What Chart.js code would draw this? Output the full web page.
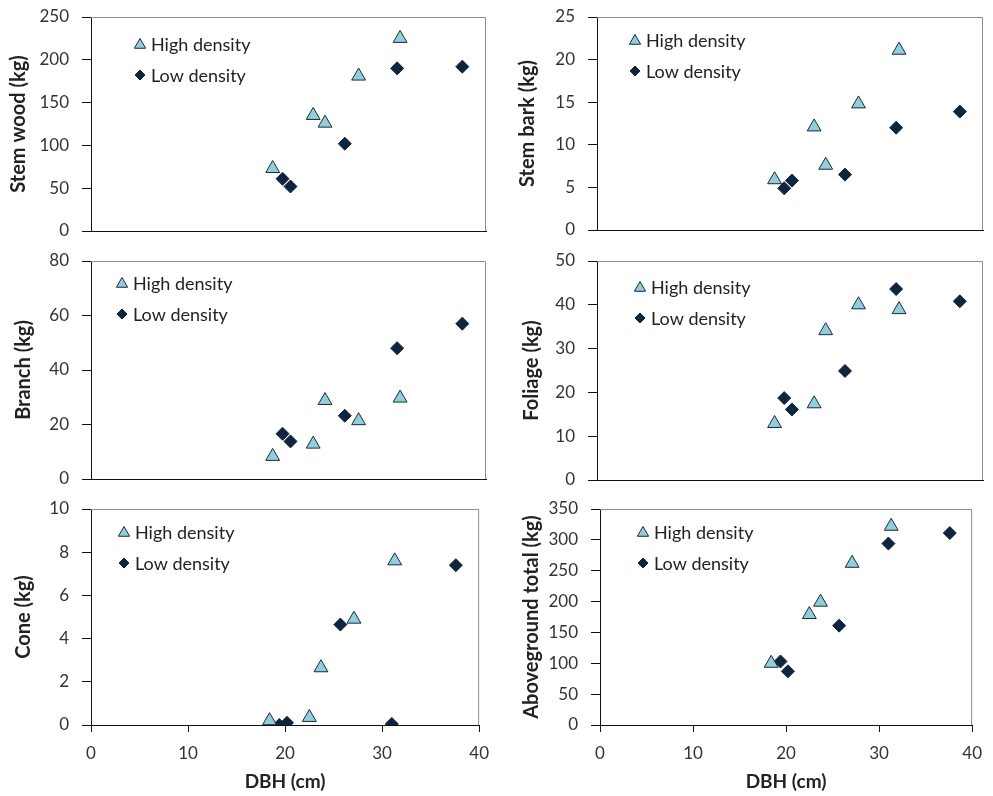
<!DOCTYPE html>
<html>
<head>
<meta charset="utf-8">
<title>Biomass vs DBH</title>
<script src="https://cdn.jsdelivr.net/npm/chart.js@4.4.0/dist/chart.umd.min.js"></script>
<style>
  body { margin: 0; background: #fff; }
  #wrap { position: relative; width: 993px; height: 796px; overflow: hidden; }
  .panel { position: absolute; }
</style>
</head>
<body>
<div id="wrap">
  <div class="panel" id="p0"><canvas></canvas></div>
  <div class="panel" id="p1"><canvas></canvas></div>
  <div class="panel" id="p2"><canvas></canvas></div>
  <div class="panel" id="p3"><canvas></canvas></div>
  <div class="panel" id="p4"><canvas></canvas></div>
  <div class="panel" id="p5"><canvas></canvas></div>
</div>
<script>
// DBH of the sampled trees (cm)
const dbhHigh = [18.4, 22.5, 23.7, 27.1, 31.3];
const dbhLow = [19.4, 20.2, 25.7, 31.0, 37.6];
const xTicks = [0, 10, 20, 30, 40];

// biomass components (kg)
const stemWoodHigh = [73, 135, 126, 181, 225];
const stemWoodLow = [61, 52, 102, 190, 192];
const stemBarkHigh = [5.9, 12.1, 7.6, 14.8, 21.1];
const stemBarkLow = [4.9, 5.8, 6.5, 12.0, 13.9];
const branchHigh = [8.3, 12.8, 28.8, 21.4, 29.7];
const branchLow = [16.6, 13.8, 23.2, 48.0, 57.0];
const foliageHigh = [12.9, 17.4, 34.1, 40.0, 38.9];
const foliageLow = [18.7, 16.1, 24.9, 43.6, 40.8];
const coneHigh = [0.2, 0.35, 2.65, 4.9, 7.6];
const coneLow = [0.0, 0.1, 4.65, 0.05, 7.4];
const totalHigh = [100, 179, 199, 262, 322];
const totalLow = [103, 87, 161, 294, 311];

// y tick labels per panel
const stemWoodTicks = [0, 50, 100, 150, 200, 250];
const stemBarkTicks = [0, 5, 10, 15, 20, 25];
const branchTicks = [0, 20, 40, 60, 80];
const foliageTicks = [0, 10, 20, 30, 40, 50];
const coneTicks = [0, 2, 4, 6, 8, 10];
const totalTicks = [0, 50, 100, 150, 200, 250, 300, 350];

const seriesLabels = ['High density', 'Low density'];

const FONT = 'Lato, "Open Sans", sans-serif';
const HIGH_FILL = '#92CDDC';
const LOW_FILL = '#0F243E';
const EDGE = '#1B2A3A';

// box = container, area = wanted plot area (page px)
const panels = [
  { id: 'p0', title: 'Stem wood (kg)', high: stemWoodHigh, low: stemWoodLow, ticks: stemWoodTicks,
    box: [0, 0, 500, 245], area: [91, 17, 486, 231], titlePad: 7, leg: [49, 27], xLabels: false },
  { id: 'p1', title: 'Stem bark (kg)', high: stemBarkHigh, low: stemBarkLow, ticks: stemBarkTicks,
    box: [500, 0, 493, 245], area: [597, 17, 983, 230], titlePad: 16, leg: [38, 23], xLabels: false },
  { id: 'p2', title: 'Branch (kg)', high: branchHigh, low: branchLow, ticks: branchTicks,
    box: [0, 245, 500, 245], area: [91, 261, 486, 479], titlePad: 12, leg: [31, 22], xLabels: false },
  { id: 'p3', title: 'Foliage (kg)', high: foliageHigh, low: foliageLow, ticks: foliageTicks,
    box: [500, 245, 493, 245], area: [597, 261, 983, 480], titlePad: 20, leg: [43, 26], xLabels: false },
  { id: 'p4', title: 'Cone (kg)', high: coneHigh, low: coneLow, ticks: coneTicks,
    box: [0, 490, 500, 306], area: [91, 509, 480, 725], titlePad: 12, leg: [33, 23], xLabels: true },
  { id: 'p5', title: 'Aboveground total (kg)', high: totalHigh, low: totalLow, ticks: totalTicks,
    box: [500, 490, 493, 306], area: [600, 509, 983, 725], titlePad: 20, leg: [43, 23], xLabels: true }
];

const toPoints = (xs, ys) => xs.map((x, i) => ({ x: x, y: ys[i] }));

// grey top/right frame of each plot
const frame = {
  id: 'frame',
  beforeDatasetsDraw(chart) {
    const { ctx, chartArea: a } = chart;
    ctx.save();
    ctx.strokeStyle = '#8c8c8c';
    ctx.lineWidth = 1;
    ctx.beginPath();
    ctx.moveTo(a.left, a.top + 0.5);
    ctx.lineTo(a.right - 0.5, a.top + 0.5);
    ctx.lineTo(a.right - 0.5, a.bottom);
    ctx.stroke();
    ctx.restore();
  }
};

// legend drawn inside the plot, like the original
const insideLegend = {
  id: 'insideLegend',
  afterDraw(chart, args, opts) {
    const { ctx, chartArea: a } = chart;
    const x0 = a.left + opts.dx;
    const y0 = a.top + opts.dy;
    ctx.save();
    ctx.font = '18px ' + FONT;
    ctx.textBaseline = 'middle';
    chart.data.datasets.forEach((ds, i) => {
      const y = y0 + i * 31;
      ctx.fillStyle = ds.backgroundColor;
      ctx.strokeStyle = ds.borderColor;
      ctx.lineWidth = 1;
      Chart.helpers.drawPoint(ctx, {
        pointStyle: ds.pointStyle,
        radius: ds.pointStyle === 'triangle' ? 6.5 : 5,
        rotation: 0,
        borderWidth: 1
      }, x0, y + (ds.pointStyle === 'triangle' ? 1 : 0));
      ctx.fillStyle = '#222';
      ctx.fillText(ds.label, x0 + 11, y + 1);
    });
    ctx.restore();
  }
};

panels.forEach(p => {
  const [bx, by, bw, bh] = p.box;
  const [al, at, ar, ab] = p.area;
  const el = document.getElementById(p.id);
  el.style.left = bx + 'px';
  el.style.top = by + 'px';
  el.style.width = bw + 'px';
  el.style.height = bh + 'px';

  new Chart(el.querySelector('canvas'), {
    type: 'scatter',
    data: {
      datasets: [
        {
          label: seriesLabels[0],
          data: toPoints(dbhHigh, p.high),
          pointStyle: 'triangle',
          pointRadius: 8,
          backgroundColor: HIGH_FILL,
          borderColor: EDGE,
          borderWidth: 1
        },
        {
          label: seriesLabels[1],
          data: toPoints(dbhLow, p.low),
          pointStyle: 'rectRot',
          pointRadius: 6.5,
          backgroundColor: LOW_FILL,
          borderColor: LOW_FILL,
          borderWidth: 1
        }
      ]
    },
    options: {
      responsive: true,
      maintainAspectRatio: false,
      animation: false,
      layout: { padding: { left: 0, top: at - by, right: bx + bw - ar, bottom: 0 } },
      plugins: {
        legend: { display: false },
        tooltip: { enabled: false },
        insideLegend: { dx: p.leg[0], dy: p.leg[1] }
      },
      scales: {
        x: {
          type: 'linear',
          min: 0,
          max: 40,
          afterBuildTicks: s => { s.ticks = xTicks.map(v => ({ value: v })); },
          afterFit: s => { s.height = by + bh - ab; },
          border: { display: true, color: '#111', width: 1 },
          grid: { display: p.xLabels, drawOnChartArea: false, color: '#111', tickLength: 7 },
          ticks: { display: p.xLabels, color: '#333', padding: 11, font: { family: FONT, size: 17 } },
          title: {
            display: p.xLabels,
            text: 'DBH (cm)',
            color: '#222',
            padding: { top: 2, bottom: 3 },
            font: { family: FONT, size: 19, weight: 'bold' }
          }
        },
        y: {
          type: 'linear',
          min: p.ticks[0],
          max: p.ticks[p.ticks.length - 1],
          afterBuildTicks: s => { s.ticks = p.ticks.map(v => ({ value: v })); },
          afterFit: s => {
            s.width = al - bx;
            s.paddingTop = 0;
            s.paddingBottom = 0;
          },
          border: { display: true, color: '#111', width: 1 },
          grid: { drawOnChartArea: false, color: '#111', tickLength: 9 },
          ticks: { color: '#333', padding: 13, font: { family: FONT, size: 17 } },
          title: {
            display: true,
            text: p.title,
            color: '#222',
            padding: { top: p.titlePad, bottom: 0 },
            font: { family: FONT, size: 20, weight: 'bold' }
          }
        }
      }
    },
    plugins: [frame, insideLegend]
  });
});
</script>
</body>
</html>
